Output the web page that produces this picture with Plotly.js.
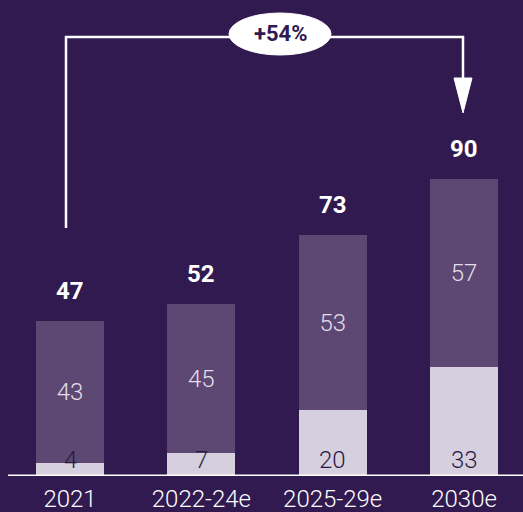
<!DOCTYPE html>
<html>
<head>
<meta charset="utf-8">
<script src="https://cdn.plot.ly/plotly-3.0.1.min.js"></script>
<style>html,body{margin:0;padding:0;background:#311a50;}</style>
</head>
<body>
<div id="chart" style="width:523px;height:512px;"></div>
<script>
const categories = ["2021", "2022-24e", "2025-29e", "2030e"];
const baseValues = [4, 7, 20, 33];
const topValues = [43, 45, 53, 57];
const totals = [47, 52, 73, 90];
const growthLabel = "+54%";

const BG = "#311a50";
const W = 523, PLOT_H = 476;
const px = x => x / W;
const py = y => 1 - y / PLOT_H;

const traces = [
  {
    type: "bar", x: categories, y: baseValues,
    marker: {color: "#d6d0de"}, hoverinfo: "skip"
  },
  {
    type: "bar", x: categories, y: topValues,
    text: topValues.map(String), textposition: "inside", insidetextanchor: "middle",
    constraintext: "none", textangle: 0,
    textfont: {family: "Roboto", size: 24, color: "#e4dfeb", weight: 300},
    marker: {color: "#5c4873"}, hoverinfo: "skip"
  }
];

const annotations = categories.map((c, i) => ({
  x: i, y: totals[i], xref: "x", yref: "y", xanchor: "center", yanchor: "bottom", yshift: 14,
  text: "<b>" + totals[i] + "</b>", showarrow: false,
  font: {family: "Roboto", size: 24, color: "#ffffff"}
}));
baseValues.forEach((v, i) => annotations.push({
  x: i, y: 0, xref: "x", yref: "y", xanchor: "center", yanchor: "bottom", yshift: 0,
  text: String(v), showarrow: false,
  font: {family: "Roboto", size: 24, color: "#2a1745", weight: 300}
}));
annotations.push({
  x: px(281), y: py(34), xref: "paper", yref: "paper", xanchor: "center", yanchor: "middle",
  text: "<b>" + growthLabel + "</b>", showarrow: false,
  font: {family: "Roboto", size: 22, color: BG}
});

const lineStyle = {color: "#ffffff", width: 2.5};
const shapes = [
  {type: "line", xref: "paper", yref: "y", x0: px(8), x1: 1, y0: 0, y1: 0, layer: "above", line: {color: "#ffffff", width: 3}},
  {type: "path", xref: "paper", yref: "paper",
   path: `M ${px(66)} ${py(228)} L ${px(66)} ${py(37)} L ${px(463)} ${py(37)} L ${px(463)} ${py(80)}`,
   line: lineStyle},
  {type: "path", xref: "paper", yref: "paper",
   path: `M ${px(454)} ${py(78)} L ${px(472)} ${py(78)} L ${px(463)} ${py(113)} Z`,
   fillcolor: "#ffffff", line: {color: "#ffffff", width: 1}},
  {type: "circle", xref: "paper", yref: "paper",
   x0: px(229), x1: px(331), y0: py(55), y1: py(13),
   fillcolor: "#ffffff", line: {color: "#ffffff", width: 1}}
];

const layout = {
  width: 523, height: 512,
  paper_bgcolor: BG, plot_bgcolor: BG,
  margin: {l: 0, r: 0, t: 0, b: 36},
  barmode: "stack", bargap: 0.48, showlegend: false,
  xaxis: {
    type: "category", range: [-0.533, 3.449], showgrid: false, zeroline: false,
    showline: false, ticks: "", fixedrange: true, ticklabelstandoff: 6,
    tickfont: {family: "Roboto", size: 24, color: "#ffffff", weight: 300}
  },
  yaxis: {
    range: [0, 144.2], visible: false, showgrid: false, zeroline: false, fixedrange: true
  },
  annotations: annotations,
  shapes: shapes
};

Plotly.newPlot("chart", traces, layout, {displayModeBar: false, staticPlot: true});
</script>
</body>
</html>
